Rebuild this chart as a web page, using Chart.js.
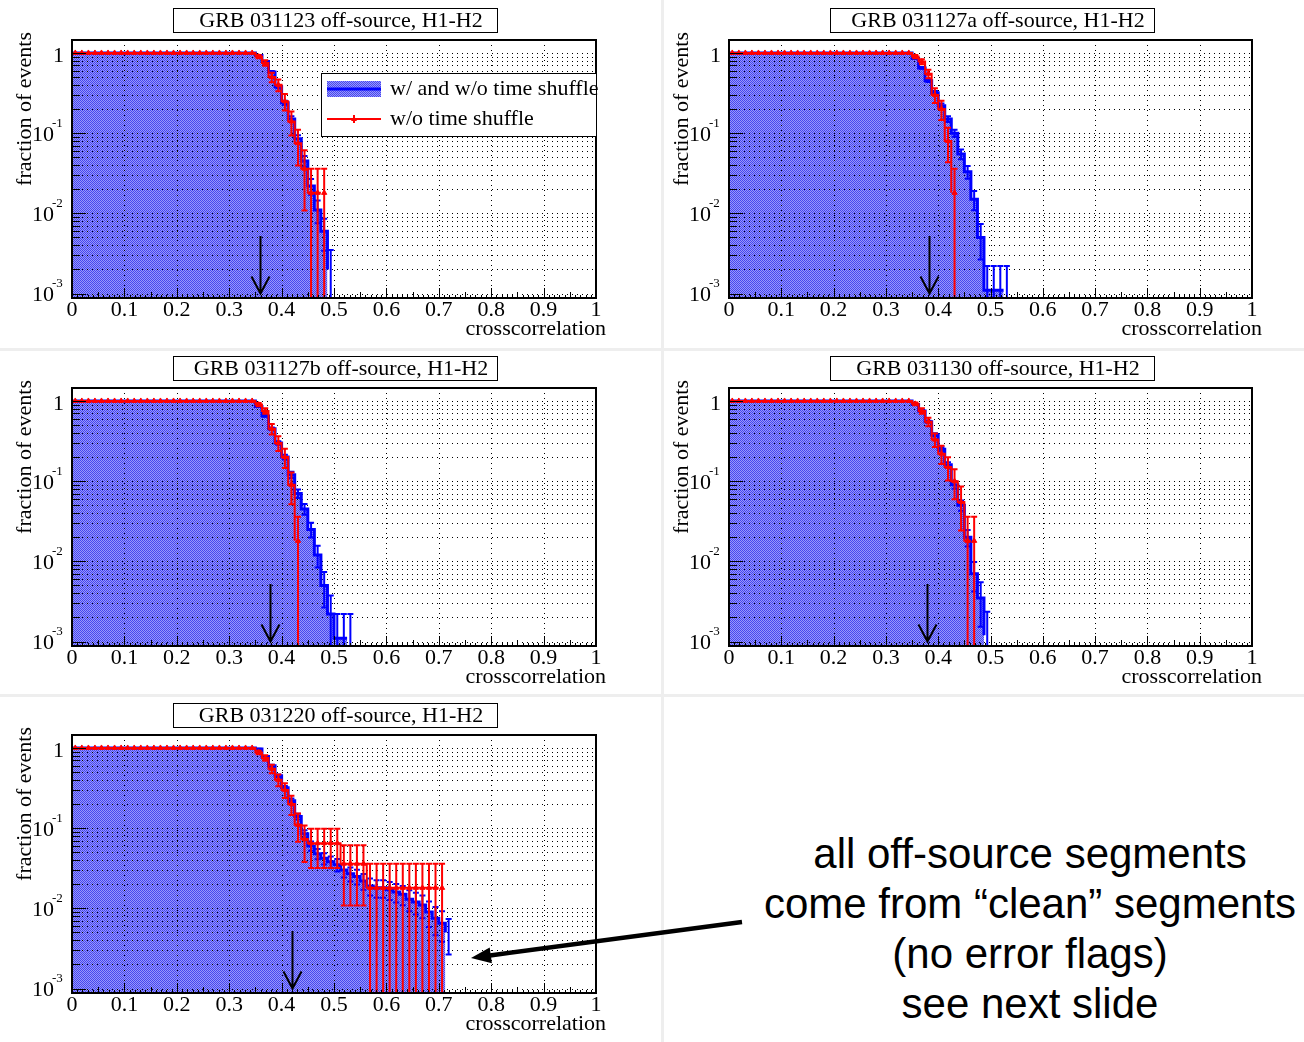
<!DOCTYPE html>
<html>
<head>
<meta charset="utf-8">
<script src="https://cdn.jsdelivr.net/npm/chart.js@4.4.0/dist/chart.umd.min.js"></script>
<style>
  body { margin: 0; background: #fff; width: 1304px; height: 1042px; position: relative; overflow: hidden; }
  .sep { position: absolute; background: #eeeeee; }
  canvas.panel { position: absolute; }
  #note {
    position: absolute; left: 756px; top: 829px; width: 548px;
    text-align: center; font-family: "Liberation Sans", Arial, sans-serif;
    font-size: 42px; line-height: 50px; color: #000;
  }
  #pointer { position: absolute; left: 0; top: 0; }
</style>
</head>
<body>
<div class="sep" style="left:0;top:348px;width:1304px;height:3px"></div>
<div class="sep" style="left:0;top:694px;width:1304px;height:3px"></div>
<div class="sep" style="left:661px;top:0;width:3px;height:1042px"></div>

<canvas id="c1" class="panel" width="660" height="347" style="left:0;top:0"></canvas>
<canvas id="c2" class="panel" width="640" height="347" style="left:664px;top:0"></canvas>
<canvas id="c3" class="panel" width="660" height="347" style="left:0;top:348px"></canvas>
<canvas id="c4" class="panel" width="640" height="347" style="left:664px;top:348px"></canvas>
<canvas id="c5" class="panel" width="660" height="348" style="left:0;top:694px"></canvas>

<div id="note">all off-source segments<br>come from “clean” segments<br>(no error flags)<br>see next slide</div>

<svg id="pointer" width="1304" height="1042">
  <line x1="742" y1="922" x2="490" y2="955.4" stroke="#000" stroke-width="4.5"/>
  <polygon points="471,958 489.7,947.4 491.9,963.3" fill="#000"/>
</svg>

<script>
// histogram bins: 80 bins of 0.0125 in crosscorrelation
const binWidth = 0.0125;
const xTickValues = [0, 0.1, 0.2, 0.3, 0.4, 0.5, 0.6, 0.7, 0.8, 0.9, 1];
const xTickLabels = ['0', '0.1', '0.2', '0.3', '0.4', '0.5', '0.6', '0.7', '0.8', '0.9', '1'];
const yDecadeValues = [1, 0.1, 0.01, 0.001];
const yDecadeExps = ['', '-1', '-2', '-3'];

const titles = [
  'GRB 031123 off-source, H1-H2',
  'GRB 031127a off-source, H1-H2',
  'GRB 031127b off-source, H1-H2',
  'GRB 031130 off-source, H1-H2',
  'GRB 031220 off-source, H1-H2'
];
const arrowAt = [0.359, 0.382, 0.377, 0.379, 0.42];

// events behind each curve (sets the size of the binomial error bars)
const redTotal = 55;
const blueTotal = 900;

// fraction of events above each bin edge (bins 0..27 all sit at 1)
const blue031123 = [1,1,1,1,1,1,1,1,1,1, 1,1,1,1,1,1,1,1,1,1, 1,1,1,1,1,1,1,1,
  0.93, 0.78, 0.58, 0.38, 0.24, 0.15, 0.085, 0.045, 0.022, 0.011, 0.006, 0.002, 0];
const red031123 = [1,1,1,1,1,1,1,1,1,1, 1,1,1,1,1,1,1,1,1,1, 1,1,1,1,1,1,1,1,
  0.9, 0.75, 0.5, 0.4, 0.25, 0.14, 0.075, 0.036, 0.018, 0.018, 0.018, 0];

const blue031127a = [1,1,1,1,1,1,1,1,1,1, 1,1,1,1,1,1,1,1,1,1, 1,1,1,1,1,1,1,1,
  0.85, 0.65, 0.45, 0.32, 0.22, 0.15, 0.1, 0.055, 0.033, 0.015, 0.005, 0.0011, 0.0011, 0.0011, 0.0011, 0];
const red031127a = [1,1,1,1,1,1,1,1,1,1, 1,1,1,1,1,1,1,1,1,1, 1,1,1,1,1,1,1,1,
  0.9, 0.78, 0.55, 0.3, 0.2, 0.08, 0.018, 0];

const blue031127b = [1,1,1,1,1,1,1,1,1,1, 1,1,1,1,1,1,1,1,1,1, 1,1,1,1,1,1,1,1,
  0.85, 0.65, 0.45, 0.3, 0.2, 0.12, 0.07, 0.045, 0.025, 0.012, 0.005, 0.0022, 0.0011, 0.0011, 0.0011, 0];
const red031127b = [1,1,1,1,1,1,1,1,1,1, 1,1,1,1,1,1,1,1,1,1, 1,1,1,1,1,1,1,1,
  0.9, 0.75, 0.45, 0.3, 0.2, 0.09, 0.018, 0];

const blue031130 = [1,1,1,1,1,1,1,1,1,1, 1,1,1,1,1,1,1,1,1,1, 1,1,1,1,1,1,1,1,
  0.9, 0.75, 0.55, 0.38, 0.25, 0.16, 0.09, 0.05, 0.02, 0.007, 0.0035, 0.0012, 0];
const red031130 = [1,1,1,1,1,1,1,1,1,1, 1,1,1,1,1,1,1,1,1,1, 1,1,1,1,1,1,1,1,
  0.92, 0.75, 0.55, 0.33, 0.22, 0.15, 0.1, 0.055, 0.018, 0.018, 0];

const blue031220 = [1,1,1,1,1,1,1,1,1,1, 1,1,1,1,1,1,1,1,1,1, 1,1,1,1,1,1,1,1,
  0.97, 0.78, 0.6, 0.45, 0.32, 0.22, 0.14, 0.085, 0.06, 0.048, 0.042, 0.038, 0.035, 0.03, 0.027,
  0.025, 0.022, 0.019, 0.018, 0.018, 0.017, 0.016, 0.015, 0.013, 0.012, 0.011, 0.009, 0.0075, 0.0065, 0.005, 0];
const red031220 = [1,1,1,1,1,1,1,1,1,1, 1,1,1,1,1,1,1,1,1,1, 1,1,1,1,1,1,1,1,
  0.88, 0.75, 0.55, 0.4, 0.3, 0.2, 0.11, 0.073, 0.065, 0.065, 0.065, 0.065, 0.065,
  0.036, 0.036, 0.036, 0.036,
  0.018, 0.018, 0.018, 0.018, 0.018, 0.018, 0.018, 0.018, 0.018, 0.018, 0.018, 0.018, 0];

const FONT = '22px "Liberation Serif", "DejaVu Serif", serif';
const SUP = '13px "Liberation Serif", "DejaVu Serif", serif';

const panels = {
  c1: { title: titles[0], blue: blue031123, red: red031123, arrow: arrowAt[0], legend: true,  pad: { left: 72, top: 40, right: 64, bottom: 49 } },
  c2: { title: titles[1], blue: blue031127a, red: red031127a, arrow: arrowAt[1], legend: false, pad: { left: 65, top: 40, right: 52, bottom: 49 } },
  c3: { title: titles[2], blue: blue031127b, red: red031127b, arrow: arrowAt[2], legend: false, pad: { left: 72, top: 40, right: 64, bottom: 49 } },
  c4: { title: titles[3], blue: blue031130, red: red031130, arrow: arrowAt[3], legend: false, pad: { left: 65, top: 40, right: 52, bottom: 49 } },
  c5: { title: titles[4], blue: blue031220, red: red031220, arrow: arrowAt[4], legend: false, pad: { left: 72, top: 41, right: 64, bottom: 49 } }
};

// log grid: 1..9 x each decade in range
const yGridValues = [1];
[0.1, 0.01, 0.001].forEach(d => { for (let k = 9; k >= 1; k--) yGridValues.push(k * d); });

function fillPattern(ctx) {
  const c = document.createElement('canvas');
  c.width = 2; c.height = 2;
  const p = c.getContext('2d');
  p.fillStyle = '#9898fa';
  p.fillRect(0, 0, 2, 2);
  p.fillStyle = '#4646f0';
  p.fillRect(0, 0, 1, 1);
  p.fillRect(1, 1, 1, 1);
  return ctx.createPattern(c, 'repeat');
}

function binPoints(values, closeAtOne) {
  const pts = values.map((v, i) => ({ x: i * binWidth, y: v }));
  if (closeAtOne) pts.push({ x: 1, y: 0 });
  return pts;
}

function centerPoints(values) {
  return values.map((v, i) => ({ x: (i + 0.5) * binWidth, y: v })).filter(p => p.y > 0);
}

function drawGrid(chart) {
  const { ctx, chartArea: a, scales: { x, y } } = chart;
  ctx.save();
  ctx.strokeStyle = '#000';
  ctx.lineWidth = 1;
  ctx.setLineDash([1, 4]);
  ctx.beginPath();
  xTickValues.slice(1, -1).forEach(v => {
    const px = Math.round(x.getPixelForValue(v)) + 0.5;
    ctx.moveTo(px, a.top);
    ctx.lineTo(px, a.bottom);
  });
  yGridValues.forEach(v => {
    const py = Math.round(y.getPixelForValue(v)) + 0.5;
    ctx.moveTo(a.left, py);
    ctx.lineTo(a.right, py);
  });
  ctx.stroke();
  ctx.restore();
}

// binomial error on an efficiency-like fraction
function drawErrors(chart, values, total, color, width) {
  const { ctx, chartArea: a, scales: { x, y } } = chart;
  ctx.save();
  ctx.beginPath();
  ctx.rect(a.left, a.top, a.right - a.left, a.bottom - a.top);
  ctx.clip();
  ctx.strokeStyle = color;
  ctx.lineWidth = width;
  ctx.beginPath();
  values.forEach((v, i) => {
    if (!v || v >= 1) return;
    const err = Math.sqrt(v * (1 - v) / total);
    const px = x.getPixelForValue((i + 0.5) * binWidth);
    const top = y.getPixelForValue(v + err);
    const lo = v - err;
    const bot = lo > 0 ? Math.min(y.getPixelForValue(lo), a.bottom) : a.bottom;
    ctx.moveTo(px, top);
    ctx.lineTo(px, bot);
    ctx.moveTo(px - 3, top);
    ctx.lineTo(px + 3, top);
    if (lo > 0) {
      ctx.moveTo(px - 3, bot);
      ctx.lineTo(px + 3, bot);
    }
  });
  ctx.stroke();
  ctx.restore();
}

function drawFrame(chart) {
  const { ctx, chartArea: a, scales: { x, y } } = chart;
  ctx.save();
  ctx.strokeStyle = '#000';
  ctx.lineWidth = 1;
  ctx.beginPath();
  for (let i = 0; i <= 100; i++) {
    const px = Math.round(x.getPixelForValue(i / 100)) + 0.5;
    const len = i % 10 === 0 ? 10 : (i % 5 === 0 ? 6 : 3);
    ctx.moveTo(px, a.bottom);
    ctx.lineTo(px, a.bottom - len);
  }
  yGridValues.forEach(v => {
    const py = Math.round(y.getPixelForValue(v)) + 0.5;
    const len = yDecadeValues.includes(v) ? 14 : 8;
    ctx.moveTo(a.left, py);
    ctx.lineTo(a.left + len, py);
  });
  ctx.stroke();
  ctx.lineWidth = 2;
  ctx.strokeRect(a.left, a.top, a.right - a.left, a.bottom - a.top);
  ctx.restore();
}

function drawLabels(chart, info) {
  const { ctx, chartArea: a, scales: { x, y } } = chart;
  ctx.save();
  ctx.fillStyle = '#000';
  ctx.font = FONT;
  ctx.textBaseline = 'middle';
  ctx.textAlign = 'center';
  xTickValues.forEach((v, i) => {
    ctx.fillText(xTickLabels[i], x.getPixelForValue(v), a.bottom + 12);
  });
  yDecadeValues.forEach((v, i) => {
    const py = y.getPixelForValue(v);
    ctx.font = FONT;
    ctx.textAlign = 'right';
    if (!yDecadeExps[i]) {
      ctx.fillText('1', a.left - 8, py + 3);
    } else {
      ctx.fillText('10', a.left - 18, py + 2);
      ctx.font = SUP;
      ctx.textAlign = 'left';
      ctx.fillText(yDecadeExps[i], a.left - 20, py - 10);
    }
  });

  // axis titles
  ctx.font = FONT;
  ctx.textAlign = 'right';
  ctx.fillText('crosscorrelation', a.right + 10, a.bottom + 31);
  ctx.save();
  ctx.translate(a.left - 47, a.top - 8);
  ctx.rotate(-Math.PI / 2);
  ctx.fillText('fraction of events', 0, 0);
  ctx.restore();

  // title box
  const cx = Math.round((a.left + a.right) / 2) + 1;
  ctx.fillStyle = '#fff';
  ctx.fillRect(cx - 162, a.top - 32, 324, 24);
  ctx.strokeStyle = '#000';
  ctx.lineWidth = 1;
  ctx.strokeRect(cx - 162 + 0.5, a.top - 32 + 0.5, 324, 24);
  ctx.fillStyle = '#000';
  ctx.textAlign = 'center';
  ctx.fillText(info.title, cx + 6, a.top - 19);
  ctx.restore();
}

function drawArrow(chart, xv) {
  const { ctx, scales: { x, y } } = chart;
  const px = Math.round(x.getPixelForValue(xv)) + 0.5;
  const top = y.getPixelForValue(0.0052);
  const tip = y.getPixelForValue(0.001);
  ctx.save();
  ctx.strokeStyle = '#000';
  ctx.lineWidth = 2;
  ctx.beginPath();
  ctx.moveTo(px, top);
  ctx.lineTo(px, tip);
  ctx.moveTo(px - 9, tip - 17);
  ctx.lineTo(px, tip);
  ctx.lineTo(px + 9, tip - 17);
  ctx.stroke();
  ctx.restore();
}

function drawLegend(chart, pattern) {
  const { ctx, chartArea: a } = chart;
  const L = a.right - 275, T = a.top + 33, W = 275, H = 63;
  ctx.save();
  ctx.fillStyle = '#fff';
  ctx.fillRect(L, T, W, H);
  ctx.strokeStyle = '#000';
  ctx.lineWidth = 1;
  ctx.strokeRect(L + 0.5, T + 0.5, W, H);

  ctx.fillStyle = pattern;
  ctx.fillRect(L + 6, T + 8, 54, 16);
  ctx.strokeStyle = '#0000ff';
  ctx.lineWidth = 3;
  ctx.beginPath();
  ctx.moveTo(L + 6, T + 16);
  ctx.lineTo(L + 60, T + 16);
  ctx.stroke();

  ctx.strokeStyle = '#ff0000';
  ctx.lineWidth = 2;
  ctx.beginPath();
  ctx.moveTo(L + 6, T + 46);
  ctx.lineTo(L + 60, T + 46);
  ctx.moveTo(L + 33, T + 42);
  ctx.lineTo(L + 33, T + 50);
  ctx.stroke();
  ctx.fillStyle = '#ff0000';
  ctx.beginPath();
  ctx.moveTo(L + 33, T + 43);
  ctx.lineTo(L + 36, T + 48);
  ctx.lineTo(L + 30, T + 48);
  ctx.closePath();
  ctx.fill();

  ctx.fillStyle = '#000';
  ctx.font = FONT;
  ctx.textAlign = 'left';
  ctx.textBaseline = 'middle';
  ctx.fillText('w/ and w/o time shuffle', L + 69, T + 16);
  ctx.fillText('w/o time shuffle', L + 69, T + 46);
  ctx.restore();
}

const rootStyle = {
  id: 'rootStyle',
  afterDatasetDraw(chart, args) {
    const ds = chart.data.datasets[args.index];
    if (ds.role === 'fill') drawGrid(chart);
    if (ds.errorValues) drawErrors(chart, ds.errorValues, ds.errorTotal, ds.borderColor, 2);
  },
  afterDatasetsDraw(chart) {
    const info = panels[chart.canvas.id];
    drawFrame(chart);
    drawLabels(chart, info);
    drawArrow(chart, info.arrow);
    if (info.legend) drawLegend(chart, info.pattern);
  }
};

Object.keys(panels).forEach(id => {
  const info = panels[id];
  const ctx = document.getElementById(id).getContext('2d');
  info.pattern = fillPattern(ctx);

  new Chart(ctx, {
    type: 'line',
    data: {
      datasets: [
        {
          role: 'fill',
          data: binPoints(info.blue, true),
          stepped: 'before',
          borderWidth: 0,
          pointRadius: 0,
          fill: 'start',
          backgroundColor: info.pattern,
          order: 6
        },
        {
          data: binPoints(info.blue, true),
          stepped: 'before',
          borderColor: '#0000ff',
          borderWidth: 3,
          pointRadius: 0,
          fill: false,
          order: 5,
          errorValues: info.blue,
          errorTotal: blueTotal
        },
        {
          data: binPoints(info.red, false),
          stepped: 'before',
          borderColor: '#ff0000',
          borderWidth: 2,
          pointRadius: 0,
          fill: false,
          order: 4,
          errorValues: info.red,
          errorTotal: redTotal
        },
        {
          data: centerPoints(info.red),
          showLine: false,
          pointStyle: 'triangle',
          pointRadius: 3,
          borderWidth: 1,
          borderColor: '#ff0000',
          backgroundColor: '#ff0000',
          order: 3
        }
      ]
    },
    options: {
      responsive: false,
      animation: false,
      devicePixelRatio: 1,
      events: [],
      layout: { padding: info.pad },
      plugins: { legend: { display: false }, tooltip: { enabled: false } },
      scales: {
        x: { type: 'linear', min: 0, max: 1, display: false },
        y: { type: 'logarithmic', min: 0.00088, max: 1.45, display: false }
      }
    },
    plugins: [rootStyle]
  });
});
</script>
</body>
</html>
